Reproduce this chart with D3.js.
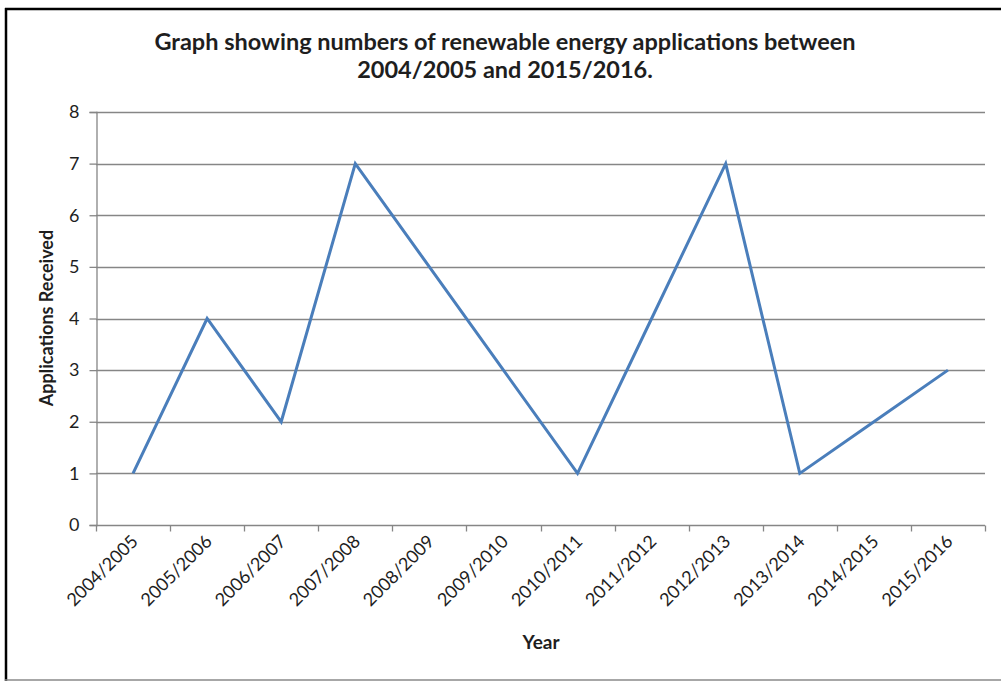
<!DOCTYPE html>
<html>
<head>
<meta charset="utf-8">
<script src="https://cdn.jsdelivr.net/npm/d3@7"></script>
<style>
  html, body { margin: 0; padding: 0; background: #fff; }
  svg { display: block; }
  text { font-family: Lato, "Open Sans", sans-serif; }
</style>
</head>
<body>
<svg id="chart" width="1001" height="682"></svg>
<script>
// Renewable energy applications received per financial year
const years = ["2004/2005", "2005/2006", "2006/2007", "2007/2008", "2008/2009", "2009/2010",
               "2010/2011", "2011/2012", "2012/2013", "2013/2014", "2014/2015", "2015/2016"];
const applications = [1, 4, 2, 7, 5, 3, 1, 4, 7, 1, 2, 3];
const yTicks = [0, 1, 2, 3, 4, 5, 6, 7, 8];
const titleLines = ["Graph showing numbers of renewable energy applications between",
                    "2004/2005 and 2015/2016."];

const svg = d3.select("#chart");
const plot = { left: 96, right: 985, top: 112, bottom: 525 };

// Outer frame
svg.append("line").attr("x1", 5).attr("x2", 1001).attr("y1", 9).attr("y2", 9)
  .attr("stroke", "#000").attr("stroke-width", 2.5);
svg.append("line").attr("x1", 6).attr("x2", 6).attr("y1", 8).attr("y2", 681)
  .attr("stroke", "#000").attr("stroke-width", 2.5);
svg.append("line").attr("x1", 5).attr("x2", 1001).attr("y1", 680).attr("y2", 680)
  .attr("stroke", "#8a8a8a").attr("stroke-width", 1.5);

const x = d3.scaleBand().domain(years).range([plot.left, plot.right]);
const y = d3.scaleLinear().domain([0, 8]).range([plot.bottom, plot.top]);

// Horizontal gridlines
svg.append("g").selectAll("line").data(yTicks.filter(d => d > 0)).join("line")
  .attr("x1", plot.left).attr("x2", plot.right)
  .attr("y1", d => Math.round(y(d)) + 0.5).attr("y2", d => Math.round(y(d)) + 0.5)
  .attr("stroke", "#868686").attr("stroke-width", 1.3);

// Y axis
const yAxis = svg.append("g").attr("transform", `translate(${plot.left + 0.5},0)`)
  .call(d3.axisLeft(y).tickValues(yTicks).tickSize(7).tickPadding(10).tickFormat(d3.format("d")));
yAxis.select(".domain").attr("stroke", "#868686").attr("stroke-width", 1.3);
yAxis.selectAll(".tick line").attr("stroke", "#868686").attr("stroke-width", 1.3);
yAxis.selectAll(".tick text").attr("font-size", 18).attr("fill", "#1e1e1e")
  .attr("font-family", "Lato, sans-serif");

// X axis with ticks at category boundaries
const xAxisG = svg.append("g").attr("transform", `translate(0,${plot.bottom + 0.5})`);
xAxisG.append("line").attr("x1", plot.left).attr("x2", plot.right)
  .attr("stroke", "#868686").attr("stroke-width", 1.3);
const boundaries = years.map(d => x(d)).concat([plot.right]);
xAxisG.selectAll("line.tk").data(boundaries).join("line").attr("class", "tk")
  .attr("x1", d => Math.round(d) + 0.5).attr("x2", d => Math.round(d) + 0.5)
  .attr("y1", 0).attr("y2", 6)
  .attr("stroke", "#868686").attr("stroke-width", 1.3);
xAxisG.selectAll("text").data(years).join("text")
  .attr("transform", d => `translate(${x(d) + x.bandwidth() / 2 + 6},${17}) rotate(-45)`)
  .attr("text-anchor", "end")
  .attr("font-size", 18).attr("fill", "#1e1e1e")
  .text(d => d);

// Data line
const line = d3.line()
  .x((d, i) => x(years[i]) + x.bandwidth() / 2)
  .y(d => y(d));
svg.append("path").datum(applications)
  .attr("d", line)
  .attr("fill", "none").attr("stroke", "#4a7ebb").attr("stroke-width", 3)
  .attr("stroke-linejoin", "miter");

// Title
svg.append("text").attr("x", 505).attr("y", 50).attr("text-anchor", "middle")
  .attr("font-size", 23.5).attr("font-weight", "bold").attr("fill", "#1e1e1e")
  .selectAll("tspan").data(titleLines).join("tspan")
  .attr("x", 505).attr("dy", (d, i) => i === 0 ? 0 : 28).text(d => d);

// Axis titles
svg.append("text").attr("transform", "translate(53,318) rotate(-90)")
  .attr("text-anchor", "middle").attr("font-size", 18).attr("font-weight", "bold")
  .attr("fill", "#1e1e1e").text("Applications Received");
svg.append("text").attr("x", 541).attr("y", 649).attr("text-anchor", "middle")
  .attr("font-size", 19).attr("font-weight", "bold").attr("fill", "#1e1e1e").text("Year");
</script>
</body>
</html>
